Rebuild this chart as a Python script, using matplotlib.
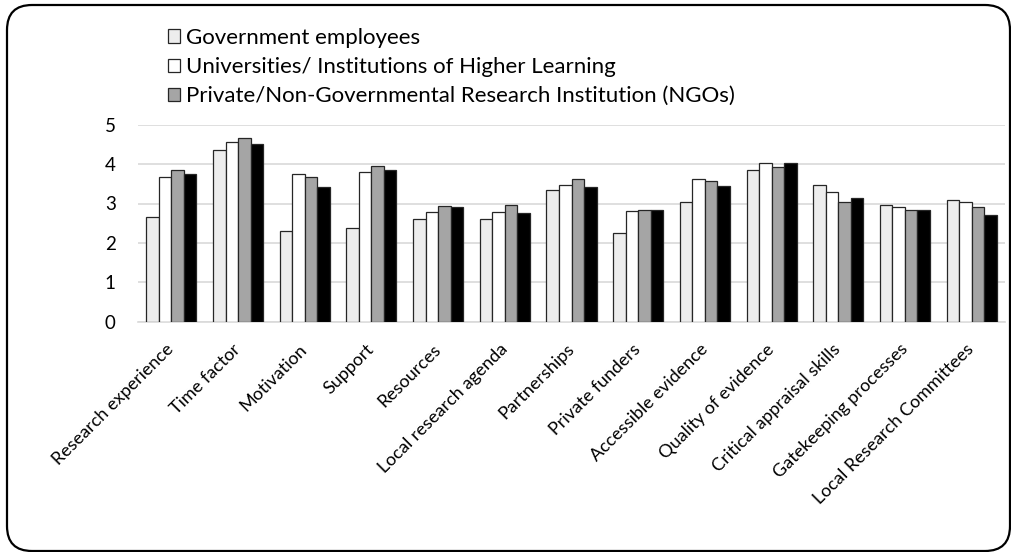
import matplotlib
matplotlib.use("Agg")
import matplotlib.pyplot as plt
import numpy as np
from matplotlib.patches import FancyBboxPatch, Patch

plt.rcParams['font.family'] = ['Lato', 'DejaVu Sans']

categories = ["Research experience", "Time factor", "Motivation", "Support", "Resources",
              "Local research agenda", "Partnerships", "Private funders", "Accessible evidence",
              "Quality of evidence", "Critical appraisal skills", "Gatekeeping processes",
              "Local Research Committees"]

government = [2.67, 4.36, 2.30, 2.39, 2.61, 2.61, 3.33, 2.26, 3.04, 3.85, 3.47, 2.96, 3.09]
universities = [3.68, 4.55, 3.74, 3.79, 2.78, 2.78, 3.46, 2.81, 3.63, 4.02, 3.29, 2.90, 3.04]
private_ngo = [3.86, 4.67, 3.68, 3.96, 2.94, 2.96, 3.63, 2.84, 3.56, 3.93, 3.04, 2.84, 2.90]
fourth = [3.74, 4.52, 3.42, 3.85, 2.91, 2.77, 3.42, 2.84, 3.44, 4.04, 3.13, 2.83, 2.71]

series_labels = ["Government employees",
                 "Universities/ Institutions of Higher Learning",
                 "Private/Non-Governmental Research Institution (NGOs)"]
yticks = [0, 1, 2, 3, 4, 5]

W, H = 1011, 552
fig = plt.figure(figsize=(W / 100, H / 100), dpi=100)

ax = fig.add_axes([138 / W, (H - 321.7) / H, 867 / W, 197 / H])

x = np.arange(len(categories))
bw = 0.1875
colors = ["#EDEDED", "#FFFFFF", "#A5A5A5", "#000000"]
all_series = [government, universities, private_ngo, fourth]
for i, (vals, c) in enumerate(zip(all_series, colors)):
    ax.bar(x + (i - 1.5) * bw, vals, width=bw, color=c, edgecolor="#262626",
           linewidth=0.9, zorder=3)

ax.set_xlim(-0.5, len(categories) - 0.5)
ax.set_ylim(0, 5)
ax.set_yticks(yticks)
ax.set_yticklabels([str(t) for t in yticks], fontsize=13.5)
ax.yaxis.grid(True, color="#D9D9D9", linewidth=1.2, zorder=0)
ax.set_axisbelow(True)
for s in ["top", "right", "left"]:
    ax.spines[s].set_visible(False)
ax.spines["bottom"].set_color("#D9D9D9")
ax.spines["bottom"].set_linewidth(1.2)
ax.tick_params(axis="y", length=0, pad=16)

ax.set_xticks(x)
ax.set_xticklabels(categories, rotation=45, ha="right", va="center",
                   rotation_mode="anchor", fontsize=13)
ax.tick_params(axis="x", length=0, pad=18)

handles = [Patch(facecolor=c, edgecolor="#262626", linewidth=0.9) for c in colors[:3]]
fig.legend(handles, series_labels, loc="upper left",
           bbox_to_anchor=(168 / W, 1 - 28 / H), frameon=False, fontsize=16,
           handlelength=0.55, handleheight=0.55, handletextpad=0.25,
           labelspacing=0.41, borderpad=0, borderaxespad=0)

# rounded outer border (in inches via dpi_scale_trans)
x0, y0 = 7 / 100, (H - 551) / 100
x1, y1 = 1010 / 100, (H - 5) / 100
border = FancyBboxPatch((x0, y0), x1 - x0, y1 - y0,
                        boxstyle="round,pad=0,rounding_size=0.25",
                        transform=fig.dpi_scale_trans, facecolor="none",
                        edgecolor="black", linewidth=1.6, zorder=10)
fig.patches.append(border)

fig.savefig("out.png", dpi=100, facecolor="white")
